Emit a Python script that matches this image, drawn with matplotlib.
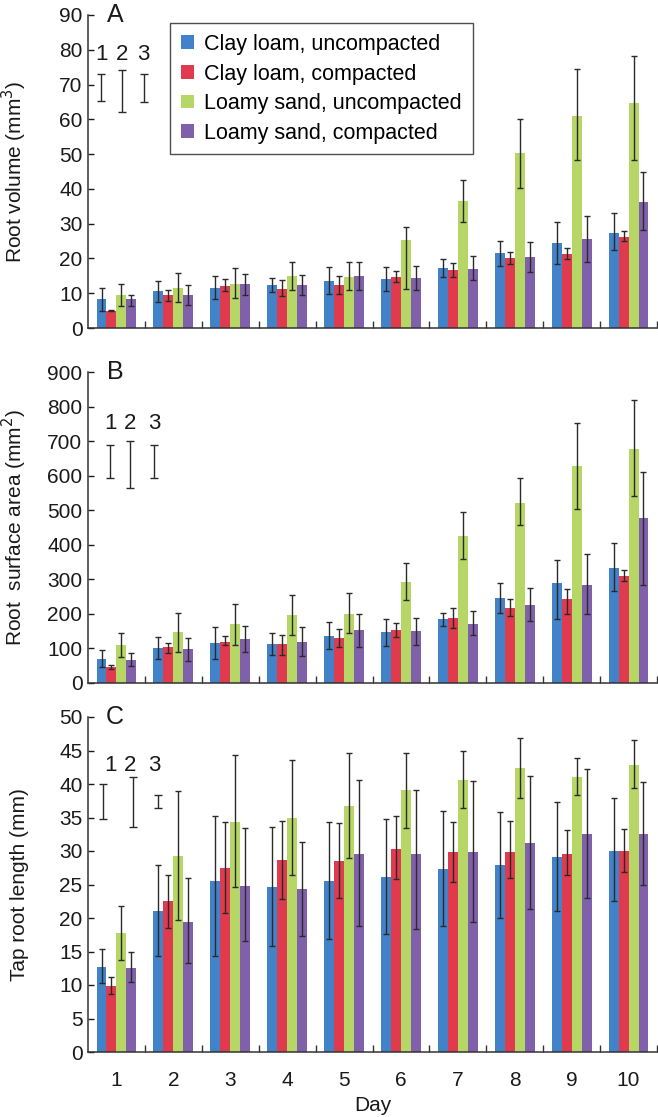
import matplotlib
matplotlib.use("Agg")
import matplotlib.pyplot as plt
from matplotlib.patches import Patch
import numpy as np

plt.rcParams['font.family'] = ['Liberation Sans', 'DejaVu Sans']

days = [1, 2, 3, 4, 5, 6, 7, 8, 9, 10]
series_names = ["Clay loam, uncompacted", "Clay loam, compacted",
                "Loamy sand, uncompacted", "Loamy sand, compacted"]
colors = ["#4282C8", "#E03A4E", "#B6D765", "#8160AB"]

# ---- Panel A: root volume (mm3) ----
vol_mean = [
    [8.4, 10.5, 11.5, 12.4, 13.6, 14.1, 17.3, 21.5, 24.4, 27.4],
    [5.0, 9.4, 12.2, 11.3, 12.4, 14.8, 16.7, 20.1, 21.2, 26.2],
    [9.4, 11.5, 12.7, 14.9, 14.8, 25.3, 36.5, 50.2, 61.1, 64.6],
    [8.4, 9.4, 12.6, 12.5, 15.0, 14.4, 17.1, 20.3, 25.5, 36.2],
]
vol_hi = [
    [11.6, 13.6, 14.9, 14.4, 17.4, 17.4, 19.9, 25.0, 30.5, 33.0],
    [5.2, 11.0, 14.0, 13.8, 15.0, 16.3, 18.6, 21.9, 22.9, 27.8],
    [12.7, 15.9, 17.2, 18.9, 19.1, 28.9, 42.6, 60.1, 74.4, 78.1],
    [9.5, 12.4, 15.5, 15.3, 18.9, 17.7, 20.6, 24.6, 32.2, 44.8],
]
vol_lo = [
    [5.0, 7.4, 8.4, 10.3, 9.8, 10.6, 14.8, 17.9, 18.4, 22.5],
    [4.8, 7.9, 10.6, 9.1, 9.8, 13.1, 14.8, 18.4, 19.8, 25.0],
    [6.2, 7.6, 8.6, 11.0, 11.0, 11.2, 30.5, 40.3, 48.4, 48.4],
    [6.2, 6.5, 9.6, 9.6, 11.0, 11.0, 13.8, 16.2, 19.1, 28.1],
]
vol_inset_lo = [65.2, 62.2, 65.0]
vol_inset_hi = [73.1, 74.1, 73.1]

# ---- Panel B: root surface area (mm2) ----
area_mean = [
    [70, 100, 116, 112, 136, 147, 186, 245, 288, 333],
    [46, 103, 120, 112, 130, 152, 188, 218, 244, 310],
    [111, 147, 171, 196, 201, 292, 426, 521, 627, 678],
    [66, 97, 128, 119, 152, 150, 171, 226, 283, 477],
]
area_hi = [
    [95, 133, 162, 144, 176, 186, 204, 290, 356, 405],
    [51, 117, 135, 138, 156, 173, 218, 242, 271, 326],
    [146, 204, 229, 255, 260, 346, 496, 594, 753, 820],
    [87, 130, 166, 163, 199, 189, 208, 275, 374, 612],
]
area_lo = [
    [45, 70, 70, 82, 98, 108, 166, 204, 185, 265],
    [41, 88, 111, 82, 104, 132, 159, 194, 199, 295],
    [74, 91, 111, 138, 144, 240, 358, 456, 503, 540],
    [48, 65, 91, 79, 104, 109, 138, 179, 199, 283],
]
area_inset_lo = [593, 564, 593]
area_inset_hi = [690, 699, 690]

# ---- Panel C: tap root length (mm) ----
len_mean = [
    [12.7, 21.0, 25.5, 24.6, 25.45, 26.1, 27.25, 27.85, 29.15, 30.0],
    [9.9, 22.5, 27.5, 28.6, 28.5, 30.35, 29.85, 29.85, 29.6, 30.0],
    [17.7, 29.2, 34.4, 34.9, 36.65, 39.15, 40.6, 42.35, 41.0, 42.85],
    [12.6, 19.45, 24.85, 24.3, 29.6, 29.6, 29.85, 31.2, 32.5, 32.6],
]
len_hi = [
    [15.3, 27.95, 35.2, 33.6, 34.3, 34.75, 36.0, 35.75, 37.25, 37.85],
    [11.2, 26.45, 34.4, 34.5, 34.2, 35.15, 34.4, 34.5, 33.15, 33.35],
    [21.8, 38.9, 44.35, 43.6, 44.65, 44.65, 45.0, 46.85, 43.9, 46.5],
    [14.9, 25.9, 33.4, 31.4, 40.6, 39.15, 40.4, 41.25, 42.25, 40.25],
]
len_lo = [
    [10.3, 14.3, 14.3, 15.75, 16.9, 17.65, 18.75, 20.0, 21.1, 22.5],
    [8.7, 18.55, 20.7, 22.8, 23.0, 25.85, 25.4, 26.0, 26.35, 26.9],
    [13.8, 19.65, 24.65, 26.4, 28.9, 33.4, 36.35, 37.9, 38.4, 39.35],
    [10.4, 13.25, 16.55, 17.3, 18.8, 18.35, 19.35, 21.35, 23.0, 25.0],
]
len_inset_lo = [34.75, 33.6, 36.35]
len_inset_hi = [40.0, 41.0, 38.35]

inset_labels = ["1", "2", "3"]
ylabels = ["Root volume (mm$^3$)", "Root  surface area (mm$^2$)", "Tap root length (mm)"]
panel_letters = ["A", "B", "C"]

W, H = 658, 1117
fig = plt.figure(figsize=(W / 100, H / 100), dpi=100)

def frac_box(top_px, bot_px, left_px=88, right_px=657):
    return [left_px / W, 1 - bot_px / H, (right_px - left_px) / W, (bot_px - top_px) / H]

axes_px = [(15, 328), (372, 683), (717, 1052)]
panels = [
    (vol_mean, vol_lo, vol_hi, vol_inset_lo, vol_inset_hi, 90, 10),
    (area_mean, area_lo, area_hi, area_inset_lo, area_inset_hi, 900, 100),
    (len_mean, len_lo, len_hi, len_inset_lo, len_inset_hi, 50, 5),
]
inset_bar_x = [[0.73, 1.10, 1.48], [0.887, 1.24, 1.66], [0.764, 1.29, 1.73]]
inset_lab_x = [[0.73, 1.10, 1.48], [0.887, 1.24, 1.66], [0.887, 1.24, 1.66]]
inset_lab_y_frac = [0.875, 0.836, 0.855]

FS = 15
ecol = "#2a2a2a"
w = 0.175
x = np.array(days, dtype=float)

for k, (mean, lo, hi, ilo, ihi, ymax, ystep) in enumerate(panels):
    ax = fig.add_axes(frac_box(*axes_px[k]))
    for s in range(4):
        m = np.array(mean[s], dtype=float)
        xs = x + (s - 1.5) * w
        ax.bar(xs, m, width=w, color=colors[s], edgecolor='none', zorder=2,
               label=series_names[s])
        yerr = np.vstack([m - np.array(lo[s]), np.array(hi[s]) - m])
        ax.errorbar(xs, m, yerr=yerr, fmt='none', ecolor=ecol, elinewidth=1.0,
                    capsize=2.3, capthick=1.0, zorder=3)
    # inset reference bars
    ilo_a = np.array(ilo, dtype=float)
    ihi_a = np.array(ihi, dtype=float)
    c = (ilo_a + ihi_a) / 2
    ax.errorbar(inset_bar_x[k], c, yerr=(ihi_a - ilo_a) / 2, fmt='none',
                ecolor=ecol, elinewidth=1.0, capsize=3.0, capthick=1.0)
    for j, lab in enumerate(inset_labels):
        ax.text(inset_lab_x[k][j], ymax * inset_lab_y_frac[k], lab, ha='center',
                va='center', fontsize=16, color="#1a1a1a")
    ax.text(0.975, ymax, panel_letters[k], ha='center', va='center',
            fontsize=18, color="#1a1a1a")

    ax.set_xlim(0.5, 10.5)
    ax.set_ylim(0, ymax)
    ax.set_yticks(np.arange(0, ymax + ystep / 2, ystep))
    ax.spines['top'].set_visible(False)
    ax.spines['right'].set_visible(False)
    for sp in ('left', 'bottom'):
        ax.spines[sp].set_linewidth(1.1)
        ax.spines[sp].set_color("#333333")
    ax.tick_params(axis='y', direction='in', length=4, width=1.0, pad=4,
                   labelsize=FS, colors="#1a1a1a")
    ax.set_xticks(days)
    ax.set_xticks(np.arange(1.5, 10.6, 1.0), minor=True)
    ax.tick_params(axis='x', which='major', length=0, pad=14, labelsize=FS,
                   colors="#1a1a1a")
    ax.tick_params(axis='x', which='minor', direction='in', length=5, width=1.0,
                   color="#333333")
    if k < 2:
        ax.set_xticklabels([])
    else:
        ax.set_xlabel("Day", fontsize=FS, labelpad=4, color="#1a1a1a")
    ax.set_ylabel(ylabels[k], fontsize=FS, color="#1a1a1a")
    ax.yaxis.set_label_coords(-0.103, 0.5)

    if k == 0:
        handles = [Patch(facecolor=colors[s], edgecolor='none') for s in range(4)]
        leg = ax.legend(handles, series_names, loc='upper left',
                        bbox_to_anchor=(0.144, 0.974), fontsize=15.5,
                        frameon=True, fancybox=False, edgecolor="#222222",
                        handlelength=0.6, handleheight=0.6, handletextpad=0.5,
                        labelspacing=0.4, borderpad=0.5, borderaxespad=0)
        leg.get_frame().set_linewidth(1.0)

fig.savefig("out.png", dpi=100)
